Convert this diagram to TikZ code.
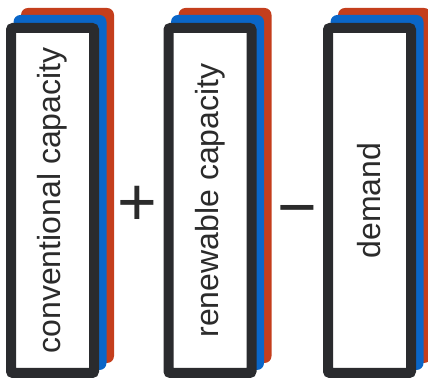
\documentclass[tikz,border=0pt]{standalone}
\usepackage{fontspec}
\setmainfont{Liberation Sans}
\definecolor{boxdark}{HTML}{2A2B2E}
\definecolor{textdark}{HTML}{2B2B2B}
\definecolor{layerblue}{HTML}{0A66C8}
\definecolor{layerred}{HTML}{C43E1C}
\begin{document}
\begin{tikzpicture}[x=1pt,y=1pt,
  frontbox/.style={draw=boxdark, line width=10pt, fill=white, rounded corners=2pt,
    minimum width=345pt, minimum height=83pt, inner sep=0pt, rotate=90,
    font=\fontsize{32}{38}\selectfont, text=textdark},
  backbox/.style={fill=#1, rounded corners=7pt, minimum width=355pt,
    minimum height=93pt, inner sep=0pt, rotate=90},
  operator/.style={inner sep=0pt, text=textdark, font=\fontsize{68}{68}\selectfont}]
\useasboundingbox (0,0) rectangle (428,379);
% back layers
\node[backbox=layerred]  (r1) at (67.5,193.5) {};
\node[backbox=layerblue] (b1) at (60,186.5) {};
\node[frontbox] (conv) at (52.5,178.5) {conventional capacity};
\node[backbox=layerred]  (r2) at (225,193.5) {};
\node[backbox=layerblue] (b2) at (217.5,186.5) {};
\node[frontbox] (ren) at (210,178.5) {renewable capacity};
\node[backbox=layerred]  (r3) at (384.5,193.5) {};
\node[backbox=layerblue] (b3) at (377,186.5) {};
\node[frontbox] (dem) at (369.5,178.5) {demand};
% operators
\node[operator] (plus) at (137.5,173) {+};
\node[operator] (minus) at (297,161) {−};
\end{tikzpicture}
\end{document}
